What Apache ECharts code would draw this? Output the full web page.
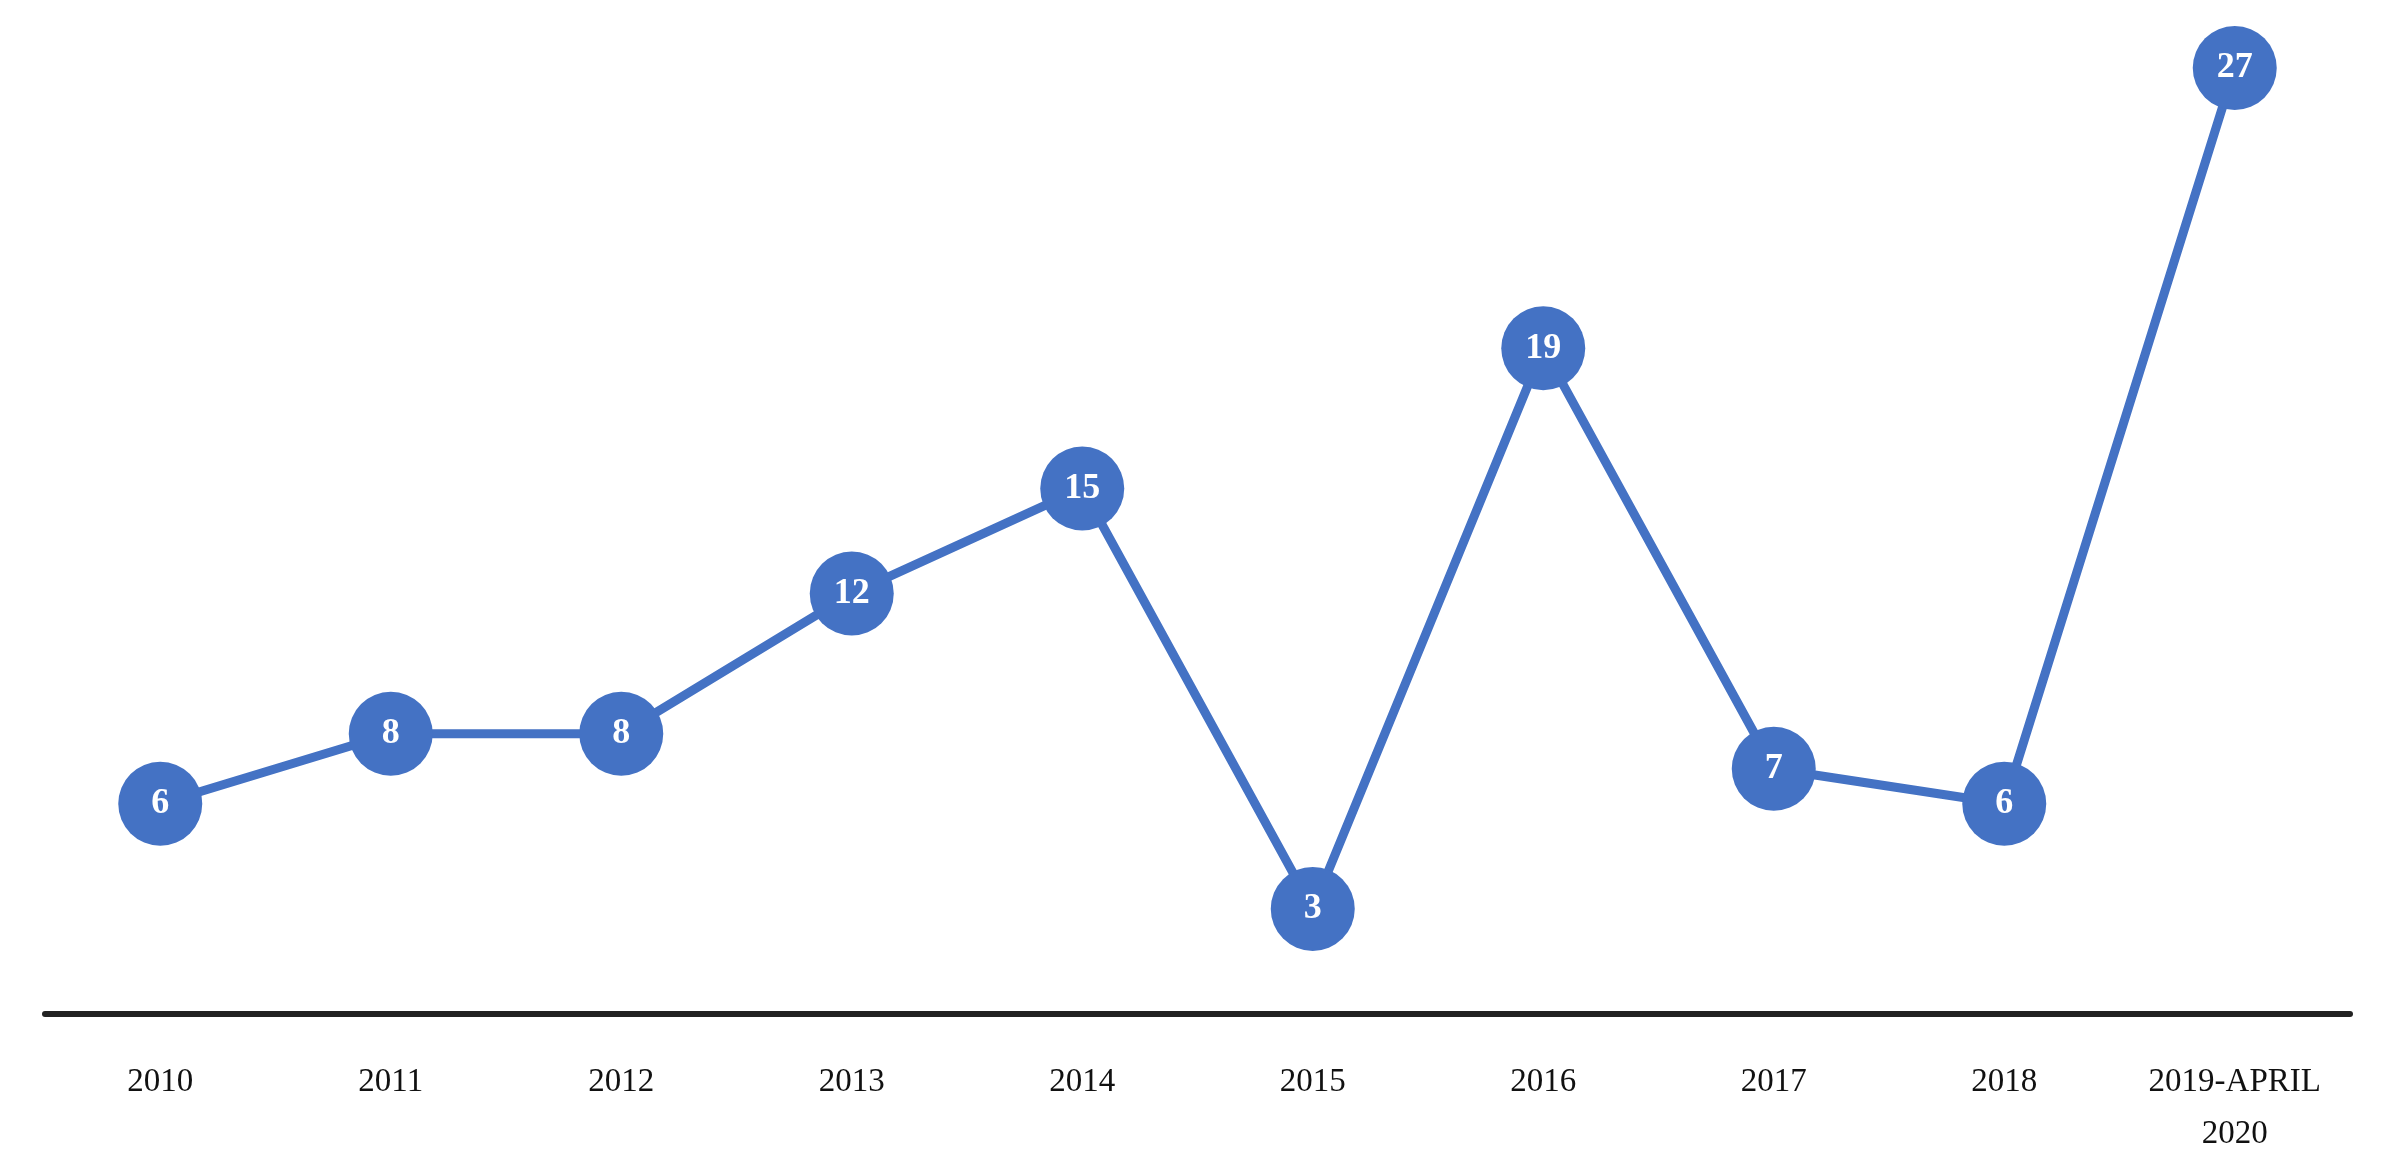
<!DOCTYPE html>
<html>
<head>
<meta charset="utf-8">
<script src="https://cdn.jsdelivr.net/npm/echarts@6/dist/echarts.min.js"></script>
<style>html,body{margin:0;padding:0;background:#fff;}#chart-dev{width:2384px;height:1160px;}</style>
</head>
<body>
<div id="chart-dev"></div>
<script>
var categories = ['2010', '2011', '2012', '2013', '2014', '2015', '2016', '2017', '2018', '2019-APRIL\n2020'];
var counts = [6, 8, 8, 12, 15, 3, 19, 7, 6, 27];

var dom = document.getElementById('chart-dev');
var myChart = echarts.init(dom, null, { renderer: 'canvas' });

var option = {
    animation: false,
    grid: { left: 45, right: 34, top: 33, bottom: 146 },
    xAxis: {
        type: 'category',
        data: categories,
        axisLine: { lineStyle: { color: '#222', width: 6 } },
        axisTick: { show: false },
        axisLabel: {
            color: '#111',
            fontFamily: 'Liberation Serif',
            fontSize: 33,
            margin: 42,
            lineHeight: 52
        }
    },
    yAxis: {
        type: 'value',
        min: 0,
        max: 28,
        show: false,
        splitLine: { show: false }
    },
    series: [
        {
            type: 'line',
            data: counts,
            symbol: 'circle',
            symbolSize: 84,
            lineStyle: { color: '#4472C4', width: 9 },
            itemStyle: { color: '#4472C4' },
            label: {
                show: true,
                position: 'inside',
                color: '#fff',
                fontFamily: 'Liberation Serif',
                fontWeight: 'bold',
                fontSize: 36
            }
        }
    ]
};

myChart.setOption(option);
window.addEventListener('resize', myChart.resize);
</script>
</body>
</html>
